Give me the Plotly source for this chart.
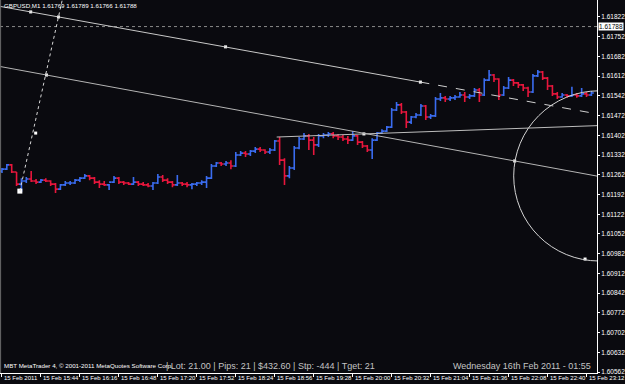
import plotly.graph_objects as go
import pandas as pd

# ---------------- data (GBPUSD, 4-minute aggregation) ----------------
bar_start = "2011-02-15 15:12"
bar_step_min = 4

opens = [1.61275, 1.61282, 1.61297, 1.61272, 1.61229, 1.61240, 1.61247, 1.61240, 1.61236, 1.61243,
         1.61240, 1.61229, 1.61211, 1.61226, 1.61233, 1.61233, 1.61243, 1.61250, 1.61258, 1.61250,
         1.61236, 1.61229, 1.61226, 1.61236, 1.61250, 1.61236, 1.61233, 1.61229, 1.61236, 1.61229,
         1.61226, 1.61222, 1.61233, 1.61254, 1.61243, 1.61236, 1.61226, 1.61233, 1.61229, 1.61226,
         1.61229, 1.61233, 1.61236, 1.61250, 1.61293, 1.61304, 1.61300, 1.61304, 1.61293, 1.61332,
         1.61339, 1.61336, 1.61346, 1.61353, 1.61350, 1.61343, 1.61350, 1.61382, 1.61314, 1.61258,
         1.61286, 1.61357, 1.61389, 1.61400, 1.61385, 1.61368, 1.61400, 1.61403, 1.61407, 1.61400,
         1.61396, 1.61389, 1.61385, 1.61400, 1.61378, 1.61364, 1.61350, 1.61385, 1.61410, 1.61417,
         1.61431, 1.61492, 1.61510, 1.61485, 1.61449, 1.61467, 1.61474, 1.61506, 1.61467, 1.61471,
         1.61531, 1.61535, 1.61531, 1.61535, 1.61538, 1.61545, 1.61538, 1.61542, 1.61563, 1.61545,
         1.61598, 1.61616, 1.61602, 1.61545, 1.61570, 1.61598, 1.61588, 1.61581, 1.61570, 1.61556,
         1.61613, 1.61627, 1.61605, 1.61577, 1.61549, 1.61538, 1.61545, 1.61542, 1.61545, 1.61542,
         1.61549, 1.61545]
highs = [1.61286, 1.61300, 1.61300, 1.61272, 1.61250, 1.61254, 1.61275, 1.61247, 1.61247, 1.61250,
         1.61243, 1.61233, 1.61229, 1.61240, 1.61240, 1.61247, 1.61254, 1.61265, 1.61261, 1.61254,
         1.61243, 1.61240, 1.61229, 1.61258, 1.61254, 1.61240, 1.61236, 1.61254, 1.61240, 1.61236,
         1.61233, 1.61236, 1.61265, 1.61261, 1.61250, 1.61240, 1.61261, 1.61236, 1.61236, 1.61233,
         1.61236, 1.61243, 1.61258, 1.61300, 1.61307, 1.61307, 1.61311, 1.61314, 1.61343, 1.61346,
         1.61346, 1.61350, 1.61361, 1.61361, 1.61353, 1.61357, 1.61385, 1.61396, 1.61321, 1.61293,
         1.61364, 1.61396, 1.61410, 1.61407, 1.61396, 1.61407, 1.61410, 1.61414, 1.61414, 1.61407,
         1.61403, 1.61400, 1.61417, 1.61403, 1.61382, 1.61368, 1.61392, 1.61414, 1.61424, 1.61435,
         1.61499, 1.61520, 1.61517, 1.61488, 1.61471, 1.61481, 1.61513, 1.61510, 1.61478, 1.61538,
         1.61552, 1.61542, 1.61542, 1.61545, 1.61556, 1.61556, 1.61549, 1.61570, 1.61570, 1.61605,
         1.61634, 1.61620, 1.61605, 1.61577, 1.61609, 1.61602, 1.61591, 1.61584, 1.61574, 1.61620,
         1.61634, 1.61630, 1.61609, 1.61581, 1.61556, 1.61552, 1.61549, 1.61574, 1.61552, 1.61570,
         1.61556, 1.61559]
lows = [1.61268, 1.61279, 1.61268, 1.61222, 1.61201, 1.61233, 1.61236, 1.61229, 1.61233, 1.61236,
        1.61222, 1.61197, 1.61208, 1.61222, 1.61226, 1.61229, 1.61236, 1.61247, 1.61243, 1.61229,
        1.61215, 1.61222, 1.61208, 1.61233, 1.61229, 1.61226, 1.61226, 1.61226, 1.61222, 1.61222,
        1.61218, 1.61208, 1.61229, 1.61236, 1.61229, 1.61218, 1.61222, 1.61222, 1.61218, 1.61211,
        1.61222, 1.61226, 1.61215, 1.61247, 1.61290, 1.61293, 1.61293, 1.61282, 1.61290, 1.61329,
        1.61325, 1.61329, 1.61339, 1.61343, 1.61336, 1.61336, 1.61346, 1.61297, 1.61226, 1.61250,
        1.61279, 1.61353, 1.61385, 1.61350, 1.61332, 1.61361, 1.61392, 1.61396, 1.61392, 1.61385,
        1.61382, 1.61371, 1.61382, 1.61368, 1.61357, 1.61343, 1.61318, 1.61382, 1.61407, 1.61414,
        1.61428, 1.61488, 1.61478, 1.61428, 1.61442, 1.61463, 1.61471, 1.61456, 1.61460, 1.61467,
        1.61524, 1.61520, 1.61524, 1.61527, 1.61535, 1.61520, 1.61531, 1.61538, 1.61520, 1.61542,
        1.61595, 1.61591, 1.61527, 1.61542, 1.61566, 1.61577, 1.61570, 1.61559, 1.61538, 1.61552,
        1.61609, 1.61598, 1.61563, 1.61542, 1.61531, 1.61535, 1.61535, 1.61538, 1.61535, 1.61538,
        1.61538, 1.61542]
closes = [1.61282, 1.61297, 1.61272, 1.61229, 1.61240, 1.61247, 1.61240, 1.61236, 1.61243, 1.61240,
          1.61229, 1.61211, 1.61226, 1.61233, 1.61233, 1.61243, 1.61250, 1.61258, 1.61250, 1.61236,
          1.61229, 1.61226, 1.61236, 1.61250, 1.61236, 1.61233, 1.61229, 1.61236, 1.61229, 1.61226,
          1.61222, 1.61233, 1.61254, 1.61243, 1.61236, 1.61226, 1.61233, 1.61229, 1.61226, 1.61229,
          1.61233, 1.61236, 1.61250, 1.61293, 1.61304, 1.61300, 1.61304, 1.61293, 1.61332, 1.61339,
          1.61336, 1.61346, 1.61353, 1.61350, 1.61343, 1.61350, 1.61382, 1.61314, 1.61258, 1.61286,
          1.61357, 1.61389, 1.61400, 1.61385, 1.61368, 1.61400, 1.61403, 1.61407, 1.61400, 1.61396,
          1.61389, 1.61385, 1.61400, 1.61378, 1.61364, 1.61350, 1.61385, 1.61410, 1.61417, 1.61431,
          1.61492, 1.61510, 1.61485, 1.61449, 1.61467, 1.61474, 1.61506, 1.61467, 1.61471, 1.61531,
          1.61535, 1.61531, 1.61535, 1.61538, 1.61545, 1.61538, 1.61542, 1.61563, 1.61545, 1.61598,
          1.61616, 1.61602, 1.61545, 1.61570, 1.61598, 1.61588, 1.61581, 1.61570, 1.61556, 1.61613,
          1.61627, 1.61605, 1.61577, 1.61549, 1.61538, 1.61545, 1.61542, 1.61545, 1.61542, 1.61549,
          1.61545, 1.61552]

price_ticks = [1.60562, 1.60632, 1.60702, 1.60772, 1.60842, 1.60912, 1.60982, 1.61052, 1.61122,
               1.61192, 1.61262, 1.61332, 1.61402, 1.61472, 1.61542, 1.61612, 1.61682, 1.61752, 1.61822]
time_ticks = ["2011-02-15 15:12", "2011-02-15 15:44", "2011-02-15 16:16", "2011-02-15 16:48",
              "2011-02-15 17:20", "2011-02-15 17:52", "2011-02-15 18:24", "2011-02-15 18:56",
              "2011-02-15 19:28", "2011-02-15 20:00", "2011-02-15 20:32", "2011-02-15 21:04",
              "2011-02-15 21:36", "2011-02-15 22:08", "2011-02-15 22:40", "2011-02-15 23:12"]
time_labels = ["15 Feb 2011", "15 Feb 15:44", "15 Feb 16:16", "15 Feb 16:48", "15 Feb 17:20",
               "15 Feb 17:52", "15 Feb 18:24", "15 Feb 18:56", "15 Feb 19:28", "15 Feb 20:00",
               "15 Feb 20:32", "15 Feb 21:04", "15 Feb 21:36", "15 Feb 22:08", "15 Feb 22:40",
               "15 Feb 23:12"]

bid_price = 1.61788
header_text = "GBPUSD,M1 1.61769 1.61789 1.61766 1.61788"
copyright_text = "MBT MetaTrader 4, © 2001-2011 MetaQuotes Software Corp."
info_text = "| Lot: 21.00 | Pips: 21 | $432.60 | Stp: -444 | Tget: 21"
clock_text = "Wednesday 16th Feb 2011 - 01:55"

# drawing objects (anchor time, anchor price)
trend_a_times = ["2011-02-15 15:35:36", "2011-02-15 20:55:36"]
trend_a_prices = [1.61840, 1.61591]
trend_b_times = ["2011-02-15 15:48:36", "2011-02-15 22:13:00"]
trend_b_prices = [1.61616, 1.61311]
dotted_times = ["2011-02-15 15:26:42", "2011-02-15 15:58:24"]
dotted_prices = [1.61204, 1.61822]
flat_times = ["2011-02-15 18:57:36", "2011-02-15 20:09:12"]
flat_prices = [1.61396, 1.61407]
circle_center_time = "2011-02-15 23:22:12"
circle_center_price = 1.61258
circle_radius_min = 70
circle_radius_price = 0.00302
marker_times = ["2011-02-15 15:35:36", "2011-02-15 15:58:24", "2011-02-15 18:15:36",
                "2011-02-15 20:55:36", "2011-02-15 15:39:42", "2011-02-15 15:48:36",
                "2011-02-15 22:13:00", "2011-02-15 23:10:48", "2011-02-15 20:09:12"]
marker_prices = [1.61840, 1.61822, 1.61716, 1.61591, 1.61410, 1.61616, 1.61311, 1.60963, 1.61407]

x_range = ["2011-02-15 15:10:24", "2011-02-15 23:20:36"]
y_range = [1.605585, 1.618823]

# ---------------- figure ----------------
BG = "#0a0a0f"
UP = "#3a6cf0"
DOWN = "#e8163c"
small_font = "Liberation Sans, Arial, sans-serif"

times = pd.date_range(bar_start, periods=len(closes), freq=f"{bar_step_min}min")

fig = go.Figure()
fig.add_trace(go.Ohlc(
    x=times, open=opens, high=highs, low=lows, close=closes,
    increasing=dict(line=dict(color=UP, width=1.6)),
    decreasing=dict(line=dict(color=DOWN, width=1.6)),
    tickwidth=0.5, hoverinfo="skip", showlegend=False,
))


def extend(ts, ps, left=True, right=True, span_min=2000):
    t0, t1 = pd.Timestamp(ts[0]), pd.Timestamp(ts[1])
    dt = (t1 - t0).total_seconds() / 60.0
    slope = (ps[1] - ps[0]) / dt
    a_t = t0 - pd.Timedelta(minutes=span_min) if left else t0
    a_p = ps[0] - slope * span_min if left else ps[0]
    b_t = t1 + pd.Timedelta(minutes=span_min) if right else t1
    b_p = ps[1] + slope * span_min if right else ps[1]
    return a_t, a_p, b_t, b_p


def add_line(x0, y0, x1, y1, color, dash="solid", width=1):
    fig.add_shape(type="line", xref="x", yref="y", x0=x0, y0=y0, x1=x1, y1=y1,
                  line=dict(color=color, width=width, dash=dash), layer="above")


# trend line A: solid between anchors & to the left, dashed ray to the right
a_t, a_p, _, _ = extend(trend_a_times, trend_a_prices, left=True, right=False)
add_line(a_t, a_p, trend_a_times[1], trend_a_prices[1], "#c8c8c8")
_, _, b_t, b_p = extend(trend_a_times, trend_a_prices, left=False, right=True)
add_line(trend_a_times[1], trend_a_prices[1], b_t, b_p, "#d0d0d0", dash="dash")

# trend line B
a_t, a_p, b_t, b_p = extend(trend_b_times, trend_b_prices)
add_line(a_t, a_p, b_t, b_p, "#b4b4b4")

# dotted line
_, _, b_t, b_p = extend(dotted_times, dotted_prices, left=False, right=True, span_min=60)
add_line(dotted_times[0], dotted_prices[0], b_t, b_p, "#d8d8d8", dash="dot")

# near-flat ray
_, _, b_t, b_p = extend(flat_times, flat_prices, left=False, right=True)
add_line(flat_times[0], flat_prices[0], b_t, b_p, "#bcbcbc")

# circle
cc = pd.Timestamp(circle_center_time)
fig.add_shape(type="circle", xref="x", yref="y",
              x0=cc - pd.Timedelta(minutes=circle_radius_min),
              x1=cc + pd.Timedelta(minutes=circle_radius_min),
              y0=circle_center_price - circle_radius_price,
              y1=circle_center_price + circle_radius_price,
              line=dict(color="#d4d4d4", width=1), layer="above")

# bid line
fig.add_shape(type="line", xref="paper", yref="y", x0=0, x1=1, y0=bid_price, y1=bid_price,
              line=dict(color="#8a8a8a", width=1, dash="dot"), layer="below")

# anchor markers
fig.add_trace(go.Scatter(x=pd.to_datetime(marker_times), y=marker_prices, mode="markers",
                         marker=dict(symbol="square", size=3, color="#ffffff"),
                         hoverinfo="skip", showlegend=False))
fig.add_trace(go.Scatter(x=[pd.Timestamp(dotted_times[0])], y=[dotted_prices[0]], mode="markers",
                         marker=dict(symbol="square", size=5, color="#ffffff"),
                         hoverinfo="skip", showlegend=False))

# left frame line
fig.add_shape(type="line", xref="paper", yref="paper", x0=0.001, x1=0.001, y0=0, y1=1,
              line=dict(color="#6a6a6a", width=1))

annotations = []
for t, lab in zip(time_ticks, time_labels):
    annotations.append(dict(x=pd.Timestamp(t), xref="x", y=0, yref="paper", text=lab,
                            xanchor="left", yanchor="top", yshift=0, xshift=0, showarrow=False,
                            font=dict(family=small_font, size=6, color="#ffffff")))
annotations += [
    dict(x=0.004, xref="paper", y=1, yref="paper", text=header_text, xanchor="left", yanchor="top",
         yshift=0, showarrow=False, font=dict(family=small_font, size=6.2, color="#ffffff")),
    dict(x=0.004, xref="paper", y=0, yref="paper", text=copyright_text, xanchor="left",
         yanchor="bottom", yshift=2, showarrow=False,
         font=dict(family=small_font, size=6.2, color="#ffffff")),
    dict(x=165 / 602, xref="paper", y=0, yref="paper", text=info_text, xanchor="left",
         yanchor="bottom", yshift=0, showarrow=False,
         font=dict(family="Liberation Sans, Arial, sans-serif", size=9, color="#c4c4c4")),
    dict(x=598 / 602, xref="paper", y=0, yref="paper", text=clock_text, xanchor="right",
         yanchor="bottom", yshift=0, showarrow=False,
         font=dict(family="Liberation Sans, Arial, sans-serif", size=9, color="#c4c4c4")),
    dict(x=1, xref="paper", y=bid_price, yref="y", text=f"{bid_price:.5f}", xanchor="left",
         yanchor="middle", xshift=1, showarrow=False, bgcolor="#ffffff", borderpad=0,
         font=dict(family=small_font, size=6.5, color="#000000")),
]

fig.update_layout(
    width=625, height=384,
    margin=dict(l=0, r=23, t=0, b=11),
    paper_bgcolor=BG, plot_bgcolor=BG,
    showlegend=False,
    annotations=annotations,
    xaxis=dict(range=x_range, type="date", rangeslider=dict(visible=False),
               showgrid=False, zeroline=False, showline=True, linecolor="#ffffff", linewidth=1,
               tickvals=[pd.Timestamp(t) for t in time_ticks], ticks="outside", ticklen=3,
               tickcolor="#ffffff", showticklabels=False, fixedrange=True),
    yaxis=dict(range=y_range, side="right", showgrid=False, zeroline=False, showline=True,
               linecolor="#ffffff", linewidth=1, tickvals=price_ticks,
               ticktext=[f"{p:.5f}" for p in price_ticks], ticks="outside", ticklen=2,
               tickcolor="#ffffff", tickfont=dict(family=small_font, size=6.5, color="#ffffff"),
               fixedrange=True),
)

fig.write_html("out.html")
